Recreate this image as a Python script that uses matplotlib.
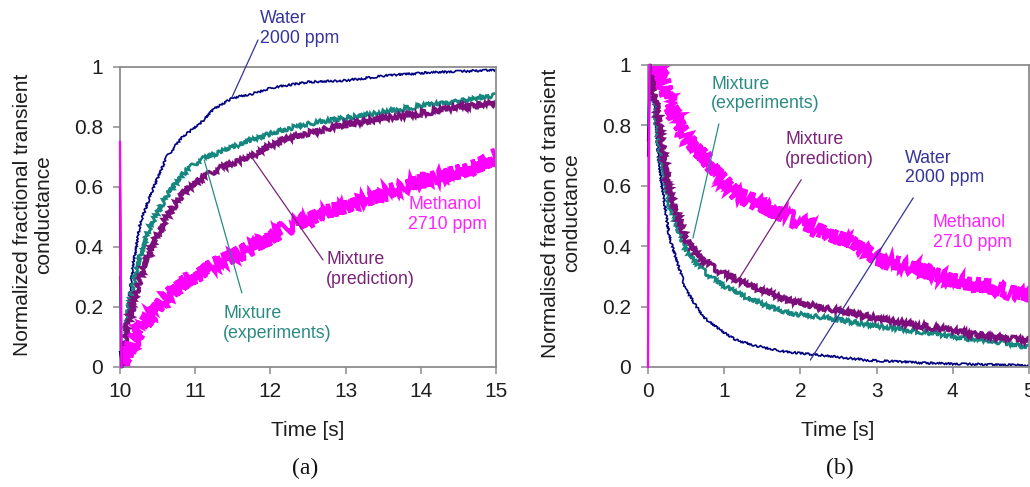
import numpy as np
import matplotlib
matplotlib.use("Agg")
import matplotlib.pyplot as plt
from matplotlib.ticker import FuncFormatter

plt.rcParams['font.family'] = ['Liberation Sans', 'DejaVu Sans']

# ---- panel (a): rise after step at t = 10 s ----
t_water_a = [10.0, 10.03, 10.06, 10.09, 10.18, 10.27, 10.4, 10.5, 10.62, 10.84, 11.06,
             11.25, 11.5, 11.75, 12.0, 12.5, 13.0, 13.5, 14.0, 14.5, 15.0]
v_water_a = [0.05, 0.0, 0.08, 0.17, 0.35, 0.48, 0.57, 0.63, 0.70, 0.77, 0.81,
             0.86, 0.897, 0.91, 0.93, 0.95, 0.955, 0.97, 0.98, 0.985, 0.99]

t_mixexp_a = [10.0, 10.02, 10.06, 10.1, 10.18, 10.27, 10.4, 10.62, 10.84, 11.06,
              11.5, 11.95, 12.4, 13.0, 13.5, 14.0, 14.5, 15.0]
v_mixexp_a = [0.3, 0.0, 0.1, 0.17, 0.28, 0.37, 0.47, 0.57, 0.645, 0.69,
              0.734, 0.773, 0.807, 0.83, 0.85, 0.87, 0.885, 0.905]

t_mixpred_a = [10.0, 10.02, 10.06, 10.1, 10.18, 10.27, 10.4, 10.62, 10.84, 11.06,
               11.28, 11.5, 11.73, 12.17, 12.5, 12.83, 13.5, 14.0, 14.5, 15.0]
v_mixpred_a = [0.6, 0.0, 0.08, 0.13, 0.21, 0.30, 0.39, 0.50, 0.58, 0.625,
               0.657, 0.68, 0.70, 0.757, 0.78, 0.80, 0.83, 0.845, 0.865, 0.88]

t_meth_a = [10.0, 10.02, 10.07, 10.18, 10.4, 10.62, 10.84, 11.06, 11.28, 11.5, 11.75,
            12.0, 12.25, 12.5, 12.75, 13.0, 13.25, 13.5, 13.75, 14.0, 14.25, 14.5,
            14.75, 15.0]
v_meth_a = [0.75, 0.0, 0.02, 0.09, 0.17, 0.235, 0.28, 0.31, 0.345, 0.37, 0.40,
            0.43, 0.47, 0.49, 0.52, 0.53, 0.555, 0.58, 0.60, 0.62, 0.635, 0.65,
            0.67, 0.70]

# ---- panel (b): decay from t = 0 s ----
t_water_b = [0.0, 0.03, 0.07, 0.15, 0.28, 0.5, 0.72, 0.94, 1.15, 1.37, 1.81, 2.24, 2.9,
             3.5, 4.0, 4.5, 5.0]
v_water_b = [0.75, 1.0, 0.88, 0.66, 0.43, 0.255, 0.167, 0.123, 0.09, 0.073, 0.05, 0.04,
             0.022, 0.015, 0.01, 0.008, 0.005]

t_mixexp_b = [0.0, 0.03, 0.07, 0.15, 0.28, 0.5, 0.72, 0.94, 1.37, 1.81, 2.24, 2.9, 3.5,
              4.0, 4.5, 5.0]
v_mixexp_b = [0.8, 1.0, 0.9, 0.73, 0.54, 0.387, 0.32, 0.277, 0.22, 0.18, 0.167, 0.14,
              0.12, 0.10, 0.085, 0.066]

t_mixpred_b = [0.0, 0.03, 0.07, 0.15, 0.28, 0.5, 0.72, 0.94, 1.37, 1.81, 2.24, 2.9,
               3.5, 4.0, 4.5, 5.0]
v_mixpred_b = [0.7, 1.0, 0.93, 0.80, 0.586, 0.42, 0.354, 0.316, 0.266, 0.222, 0.20,
               0.167, 0.14, 0.12, 0.10, 0.088]

t_meth_b = [0.0, 0.02, 0.1, 0.2, 0.28, 0.5, 0.72, 0.94, 1.15, 1.37, 1.59, 1.81, 2.03,
            2.24, 2.68, 3.0, 3.5, 4.0, 4.5, 5.0]
v_meth_b = [0.0, 1.0, 1.0, 0.95, 0.87, 0.76, 0.70, 0.63, 0.575, 0.553, 0.52, 0.50,
            0.476, 0.453, 0.41, 0.36, 0.33, 0.287, 0.265, 0.232]

C_WATER = '#000080'
C_MIXEXP = '#15877f'
C_MIXPRED = '#7d0f7d'
C_METH = '#ff00ff'
TXT_WATER = '#34349a'
TXT_MIXEXP = '#2a8a82'
TXT_MIXPRED = '#7a2279'
TXT_METH = '#ff22ff'

fig = plt.figure(figsize=(10.30, 4.87), dpi=100)
ax_a = fig.add_axes([120 / 1030, 1 - 367 / 487, 376 / 1030, 300 / 487])
ax_b = fig.add_axes([648 / 1030, 1 - 367 / 487, 381 / 1030, 302 / 487])


def draw_series(ax, t, v, color, lw, wiggle, z):
    # first segment is the switching spike: plain thin line drawn over the spine
    ax.plot(t[:2], v[:2], color=color, lw=1.6, clip_on=False, zorder=3 + z)
    ln, = ax.plot(t[1:], v[1:], color=color, lw=lw, solid_joinstyle='miter',
                  zorder=2 + z)
    ln.set_sketch_params(scale=wiggle, length=1.6, randomness=6)
    return ln


draw_series(ax_a, t_meth_a, v_meth_a, C_METH, 3.0, 7.5, 0.4)
draw_series(ax_a, t_mixpred_a, v_mixpred_a, C_MIXPRED, 2.4, 2.6, 0.3)
draw_series(ax_a, t_mixexp_a, v_mixexp_a, C_MIXEXP, 1.9, 2.2, 0.2)
draw_series(ax_a, t_water_a, v_water_a, C_WATER, 1.2, 1.0, 0.1)

draw_series(ax_b, t_meth_b, v_meth_b, C_METH, 3.0, 7.5, 0.4)
draw_series(ax_b, t_mixpred_b, v_mixpred_b, C_MIXPRED, 2.4, 2.6, 0.3)
draw_series(ax_b, t_mixexp_b, v_mixexp_b, C_MIXEXP, 1.9, 2.2, 0.2)
draw_series(ax_b, t_water_b, v_water_b, C_WATER, 1.2, 1.0, 0.1)

fmt = FuncFormatter(lambda y, _: ('%g' % round(y, 2)))
for ax, (x0, x1) in ((ax_a, (10, 15)), (ax_b, (0, 5))):
    ax.set_xlim(x0, x1)
    ax.set_ylim(0, 1)
    ax.set_xticks(np.arange(x0, x1 + 1, 1))
    ax.set_yticks(np.arange(0, 1.01, 0.2))
    ax.yaxis.set_major_formatter(fmt)
    for s in ax.spines.values():
        s.set_color('#8c8c8c')
        s.set_linewidth(1.3)
    ax.tick_params(direction='out', length=5, width=1.1, color='#8c8c8c',
                   labelsize=15, labelcolor='#1e1e1e')
    ax.tick_params(axis='y', pad=7)
    ax.tick_params(axis='x', pad=6)


def label(ax, x, y, s, color, start=None, end=None):
    ax.text(x, y, s, color=color, fontsize=12.8, ha='left', va='top',
            linespacing=1.2, clip_on=False)
    if start is not None:
        ax.annotate('', xy=end, xytext=start, annotation_clip=False,
                    arrowprops=dict(arrowstyle='-', color=color, lw=0.9,
                                    shrinkA=0, shrinkB=0))

label(ax_a, 11.86, 1.19, 'Water\n2000 ppm', TXT_WATER, (11.835, 1.09), (11.49, 0.90))
label(ax_a, 12.74, 0.385, 'Mixture\n(prediction)', TXT_MIXPRED, (12.70, 0.357), (11.75, 0.70))
label(ax_a, 11.37, 0.205, 'Mixture\n(experiments)', TXT_MIXEXP, (11.62, 0.247), (11.12, 0.69))
label(ax_a, 13.83, 0.57, 'Methanol\n2710 ppm', TXT_METH)

label(ax_b, 0.83, 0.965, 'Mixture\n(experiments)', TXT_MIXEXP, (0.93, 0.805), (0.59, 0.427))
label(ax_b, 1.80, 0.78, 'Mixture\n(prediction)', TXT_MIXPRED, (2.01, 0.62), (1.21, 0.298))
label(ax_b, 3.37, 0.72, 'Water\n2000 ppm', TXT_WATER, (3.48, 0.56), (2.13, 0.023))
label(ax_b, 3.74, 0.505, 'Methanol\n2710 ppm', TXT_METH)

# axis titles
fig.text(33 / 1030, 1 - 215 / 487, 'Normalized fractional transient\nconductance',
         rotation=90, ha='center', va='center', multialignment='center',
         fontsize=15, color='#1e1e1e', linespacing=1.15)
fig.text(561 / 1030, 1 - 213 / 487, 'Normalised fraction of transient\nconductance',
         rotation=90, ha='center', va='center', multialignment='center',
         fontsize=15, color='#1e1e1e', linespacing=1.15)
fig.text(308 / 1030, 1 - 430 / 487, 'Time [s]', ha='center', va='center',
         fontsize=15, color='#1e1e1e')
fig.text(838 / 1030, 1 - 430 / 487, 'Time [s]', ha='center', va='center',
         fontsize=15, color='#1e1e1e')

fig.text(305 / 1030, 1 - 468 / 487, '(a)', ha='center', va='center',
         fontsize=17, family='Liberation Serif', color='#111111')
fig.text(840 / 1030, 1 - 468 / 487, '(b)', ha='center', va='center',
         fontsize=17, family='Liberation Serif', color='#111111')

fig.savefig('out.png', dpi=100, facecolor='white')
